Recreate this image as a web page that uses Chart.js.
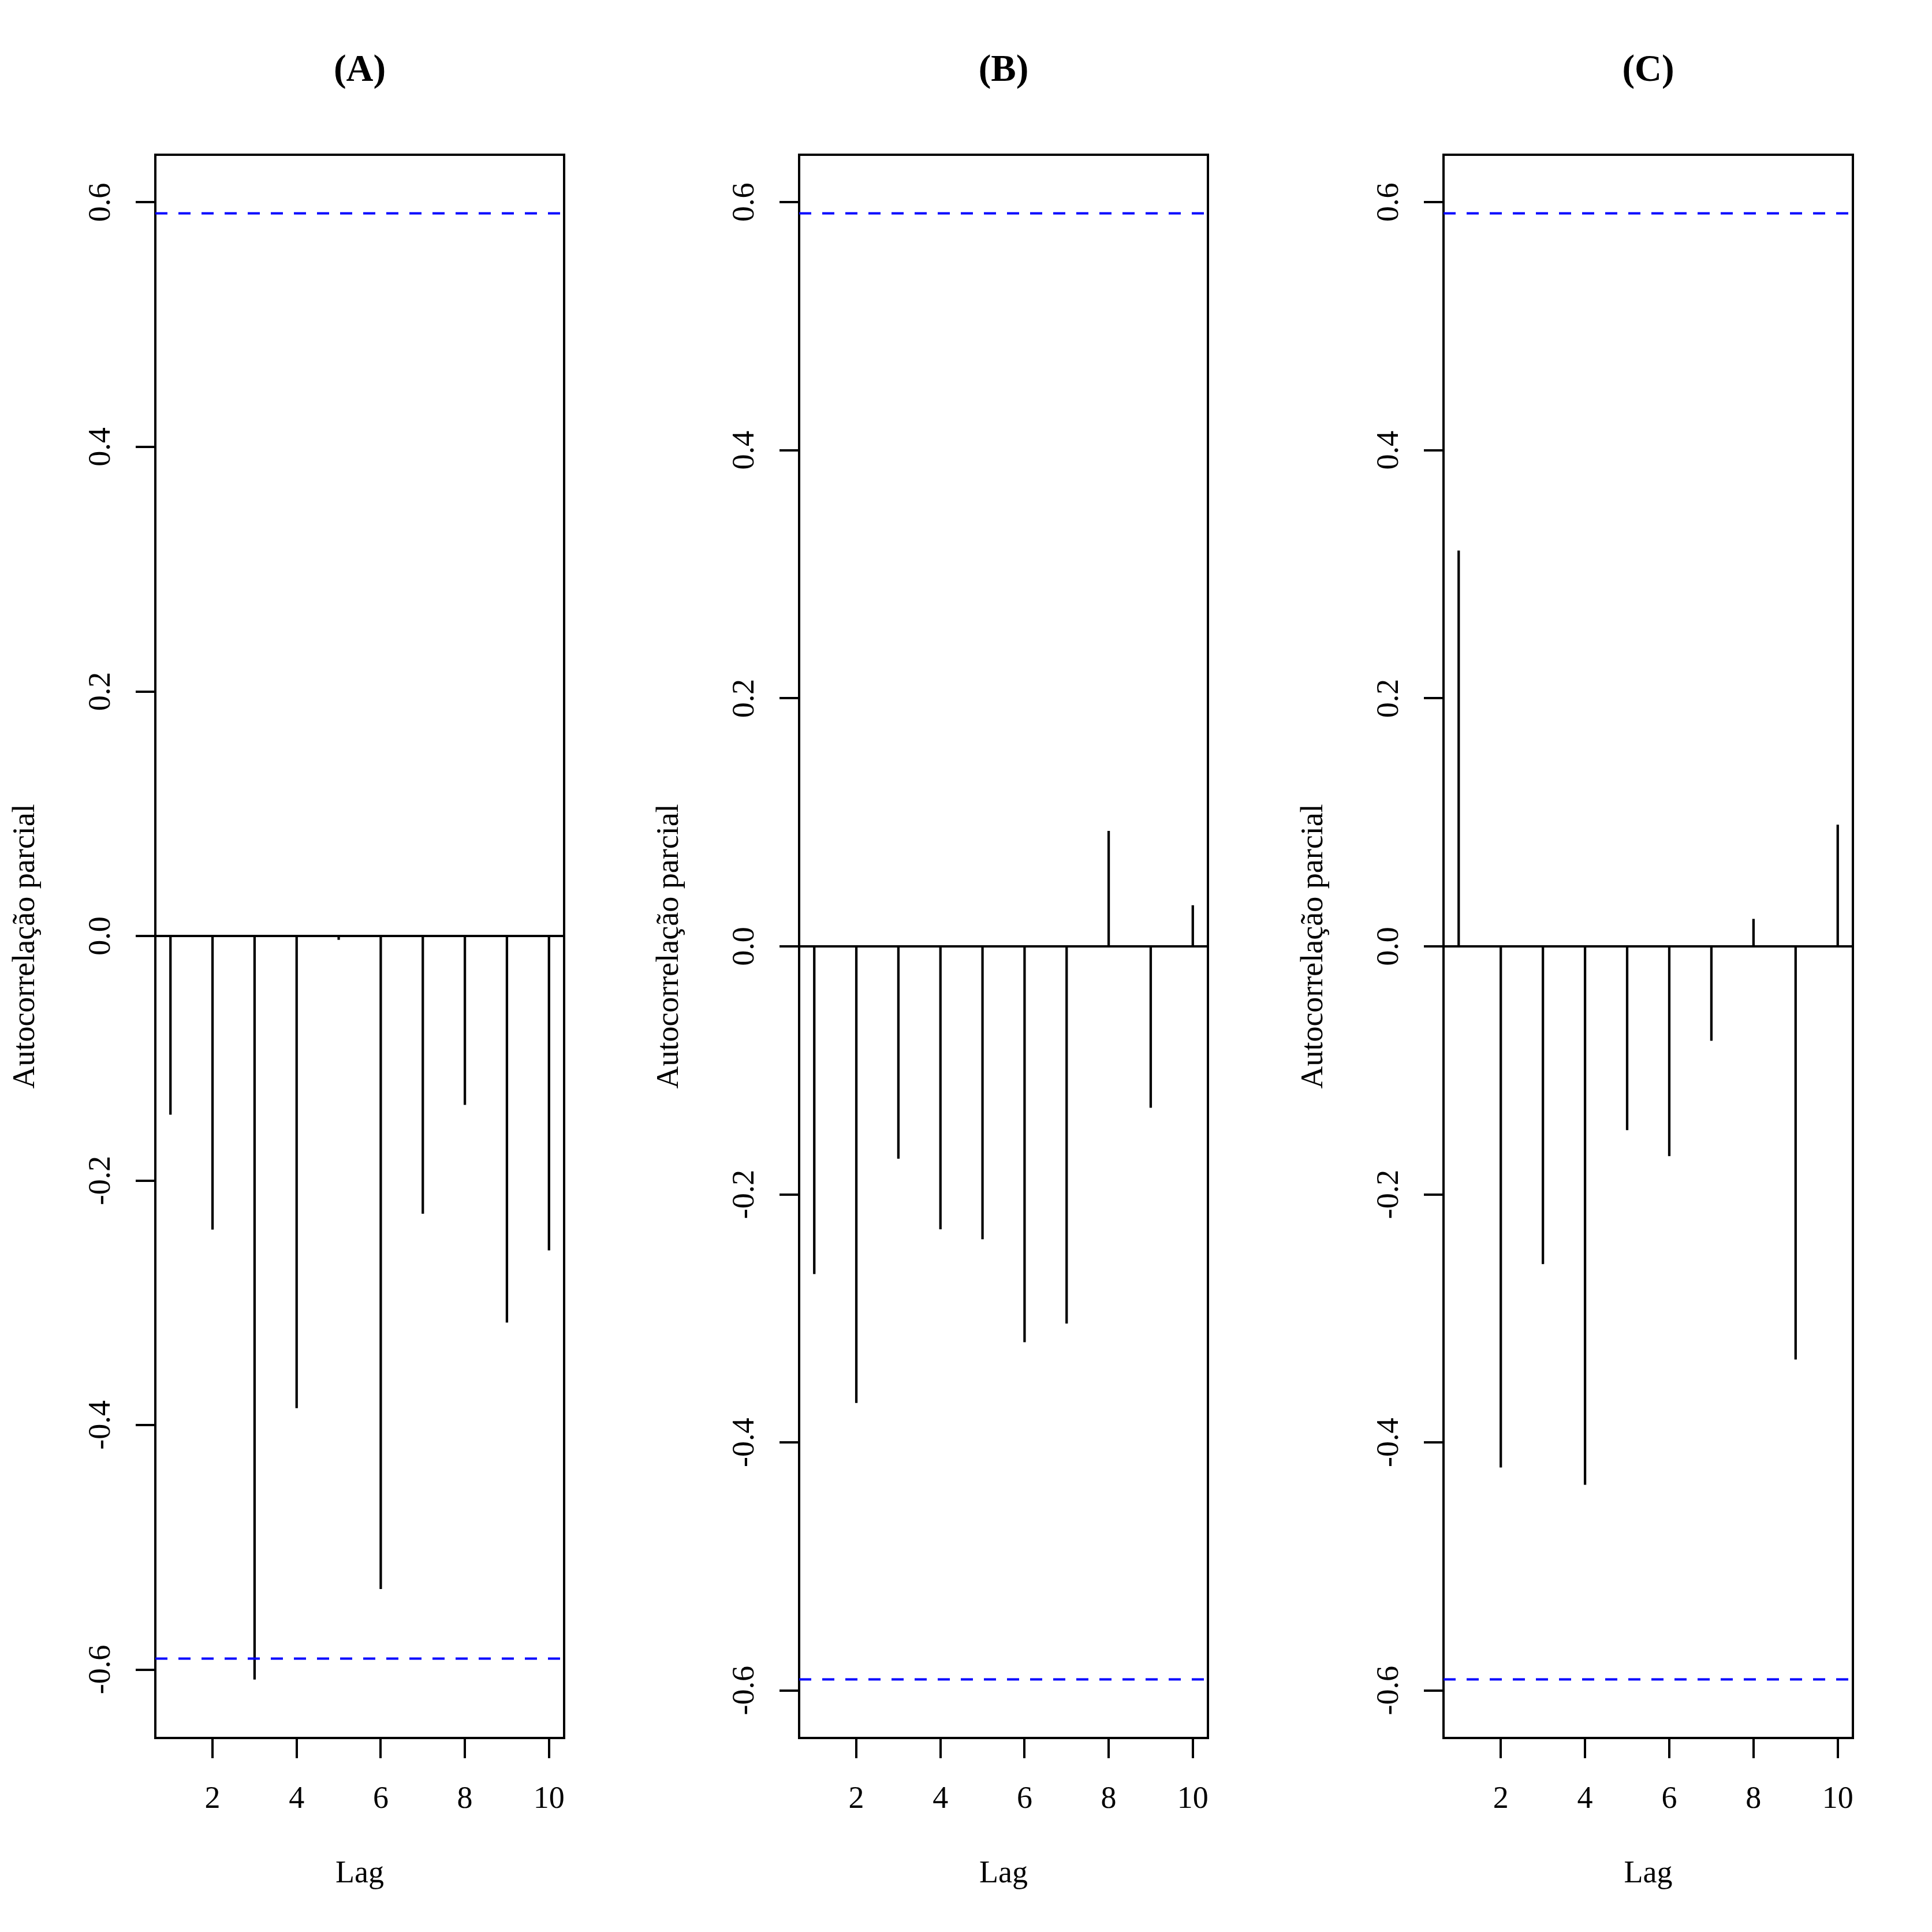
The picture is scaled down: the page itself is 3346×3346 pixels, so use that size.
<!DOCTYPE html>
<html>
<head>
<meta charset="utf-8">
<script src="https://cdn.jsdelivr.net/npm/chart.js@4.4.1/dist/chart.umd.min.js"></script>
<style>
  html, body { margin: 0; padding: 0; background: #ffffff; }
  #wrap { position: relative; width: 3346px; height: 3346px; background: #ffffff; overflow: hidden; }
  #wrap canvas { position: absolute; top: 0; }
</style>
</head>
<body>
<div id="wrap">
  <canvas id="cA" width="1115" height="3346" style="left:0px;width:1115px;height:3346px"></canvas>
  <canvas id="cB" width="1116" height="3346" style="left:1115px;width:1116px;height:3346px"></canvas>
  <canvas id="cC" width="1115" height="3346" style="left:2231px;width:1115px;height:3346px"></canvas>
</div>
<script>
// ---------------- data ----------------
const lags = [1, 2, 3, 4, 5, 6, 7, 8, 9, 10];
const pacfA = [-0.146, -0.240, -0.608, -0.386, -0.003, -0.534, -0.227, -0.138, -0.316, -0.257];
const pacfB = [-0.264, -0.368, -0.171, -0.228, -0.236, -0.319, -0.304, 0.093, -0.130, 0.033];
const pacfC = [0.319, -0.420, -0.256, -0.434, -0.148, -0.169, -0.076, 0.022, -0.333, 0.098];
const panelTitles = ['(A)', '(B)', '(C)'];
const ciBound = 0.591;
const xLimits = [0.64, 10.36];
const xTicks = [2, 4, 6, 8, 10];
const yTicks = [-0.6, -0.4, -0.2, 0.0, 0.2, 0.4, 0.6];
const xLabel = 'Lag';
const yLabel = 'Autocorrelação parcial';

// ---------------- styling ----------------
const FF = "'Liberation Serif', 'Times New Roman', Times, serif";
const LW = 4;        // frame, zero line, ticks, dashed bounds
const BAR_W = 3.6;   // spikes
const BASE = 54;
const TICK_LEN = 35;
const LEFT_W = 269;     // left margin (y axis area)
const BOTTOM_H = 336;   // bottom margin (x axis area)

const fmtY = v => (Math.abs(v) < 1e-9 ? 0 : v).toFixed(1);

const mctx = document.createElement('canvas').getContext('2d');
mctx.font = 'normal ' + BASE + 'px ' + FF;
const widestY = Math.max(...yTicks.map(v => mctx.measureText(fmtY(v)).width));
const yTickPad = LEFT_W - TICK_LEN - 175.5 - widestY / 2;

// y range like R's plot.acf: range of the values and the bounds, widened by 4%
function yRange(vals) {
  const lo = Math.min(-ciBound, ...vals);
  const hi = Math.max(ciBound, ...vals);
  const ext = (hi - lo) * 0.04;
  return [lo - ext, hi + ext];
}

function makePanel(id, title, vals, rightPad) {
  const yLim = yRange(vals);
  const bars = lags.map((l, i) => ({ x: l, y: vals[i] }));
  const ciUp = xLimits.map(x => ({ x: x, y: ciBound }));
  const ciDn = xLimits.map(x => ({ x: x, y: -ciBound }));
  const dashLine = {
    type: 'line', borderColor: '#0000ff', borderWidth: LW, borderDash: [21, 19],
    borderCapStyle: 'butt', pointRadius: 0, pointHoverRadius: 0, fill: false, order: 1
  };
  new Chart(document.getElementById(id), {
    type: 'bar',
    data: {
      datasets: [
        { type: 'bar', data: bars, backgroundColor: '#000000', borderWidth: 0,
          barThickness: BAR_W, order: 2 },
        Object.assign({ data: ciUp }, dashLine),
        Object.assign({ data: ciDn }, dashLine)
      ]
    },
    options: {
      responsive: false,
      animation: false,
      devicePixelRatio: 1,
      events: [],
      layout: { padding: { left: 0, right: rightPad, top: 0, bottom: 0 } },
      plugins: {
        legend: { display: false },
        tooltip: { enabled: false },
        title: {
          display: true, text: title, fullSize: false, color: '#000000',
          font: { family: FF, size: 65, weight: 'bold' },
          padding: { top: 84, bottom: 106 }
        }
      },
      scales: {
        x: {
          type: 'linear', position: 'bottom', min: xLimits[0], max: xLimits[1],
          offset: false,
          afterBuildTicks: s => { s.ticks = xTicks.map(v => ({ value: v })); },
          afterFit: s => { s.height = BOTTOM_H; },
          grid: { display: true, offset: false, drawOnChartArea: false, drawTicks: true,
                  tickLength: TICK_LEN, tickColor: '#000000', lineWidth: LW, tickWidth: LW },
          border: { display: true, color: '#000000', width: LW },
          ticks: { color: '#000000', font: { family: FF, size: BASE }, padding: 39,
                   autoSkip: false, minRotation: 0, maxRotation: 0,
                   callback: v => String(v) },
          title: { display: true, text: xLabel, color: '#000000',
                   font: { family: FF, size: BASE }, padding: { top: 0, bottom: 67.6 } }
        },
        xTop: {
          type: 'linear', position: 'top', min: xLimits[0], max: xLimits[1], offset: false,
          afterFit: s => { s.height = 0; },
          grid: { display: false, drawTicks: false, lineWidth: LW },
          border: { display: true, color: '#000000', width: LW },
          ticks: { display: false }
        },
        y: {
          type: 'linear', position: 'left', min: yLim[0], max: yLim[1],
          afterBuildTicks: s => { s.ticks = yTicks.map(v => ({ value: v })); },
          afterFit: s => { s.width = LEFT_W; },
          grid: { display: true, drawOnChartArea: true, drawTicks: true,
                  tickLength: 34, tickColor: '#000000', lineWidth: LW, tickWidth: LW,
                  color: c => (c.tick && Math.abs(c.tick.value) < 1e-9) ? '#000000' : 'rgba(0,0,0,0)' },
          border: { display: true, color: '#000000', width: LW },
          ticks: { color: '#000000', font: { family: FF, size: BASE }, padding: yTickPad + 1,
                   autoSkip: false, minRotation: 90, maxRotation: 90, crossAlign: 'center',
                   callback: v => fmtY(v) },
          title: { display: true, text: yLabel, color: '#000000',
                   font: { family: FF, size: BASE }, padding: { top: 12.6, bottom: 0 } }
        },
        yRight: {
          type: 'linear', position: 'right', min: yLim[0], max: yLim[1],
          afterFit: s => { s.width = 0; },
          grid: { display: false, drawTicks: false, lineWidth: LW },
          border: { display: true, color: '#000000', width: LW },
          ticks: { display: false }
        }
      }
    }
  });
}

makePanel('cA', panelTitles[0], pacfA, 138);
makePanel('cB', panelTitles[1], pacfB, 139);
makePanel('cC', panelTitles[2], pacfC, 137);
</script>
</body>
</html>
